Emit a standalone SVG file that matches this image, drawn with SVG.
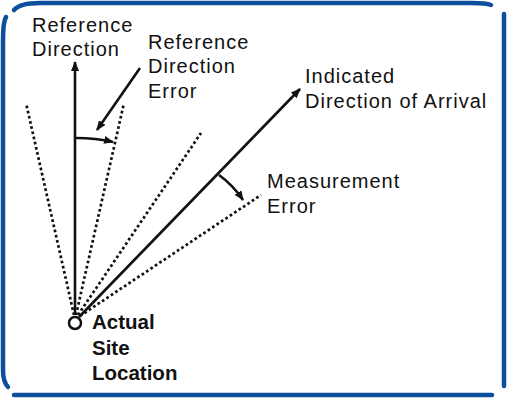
<svg xmlns="http://www.w3.org/2000/svg" width="508" height="400" viewBox="0 0 508 400">
<style>
.frame{fill:none;stroke:#0c4f9d;stroke-width:4.5;stroke-linecap:round}
.solid{fill:none;stroke:#111;stroke-width:2.6}
.dot{fill:none;stroke:#111;stroke-width:2.7;stroke-dasharray:2.7 2.6}
.lbl{font-family:"Liberation Sans",Arial,sans-serif;font-size:20px;fill:#111;letter-spacing:1px}
.bold{font-family:"Liberation Sans",Arial,sans-serif;font-size:20.5px;font-weight:bold;fill:#111}
</style>
<defs>
<marker id="ah" viewBox="0 0 10 8" refX="9" refY="4" markerWidth="10" markerHeight="8" markerUnits="userSpaceOnUse" orient="auto">
<path d="M0,0 L10,4 L0,8 Z" fill="#111"/>
</marker>
</defs>
<rect width="508" height="400" fill="#fff"/>
<g id="frame">
<path class="frame" d="M14,10 Q20,3 40,3 L472,3 Q486,3 491,5"/>
<path class="frame" d="M6,17 Q3,22 3,40 L3,370 Q3,382 8,387"/>
<path class="frame" d="M14,395 L492,395"/>
<path class="frame" d="M504,14 L504,386"/>
</g>
<g id="connectors">
<line class="dot" x1="74" y1="315" x2="26" y2="103"/>
<line class="dot" x1="76" y1="315" x2="124" y2="103"/>
<line class="dot" x1="78" y1="315" x2="201" y2="133"/>
<line class="dot" x1="80" y1="316" x2="261" y2="195"/>
<line class="solid" x1="75" y1="315" x2="75" y2="62" marker-end="url(#ah)"/>
<line class="solid" x1="79" y1="317" x2="300" y2="89" marker-end="url(#ah)"/>
<path class="solid" d="M76,138 Q96,138 113,142" marker-end="url(#ah)"/>
<line class="solid" x1="140" y1="68" x2="97" y2="130" marker-end="url(#ah)"/>
<path class="solid" d="M219,175 Q233,185 243,200" marker-end="url(#ah)"/>
</g>
<g id="site">
<circle cx="75" cy="323" r="6" fill="#fff" stroke="#111" stroke-width="2.5"/>
<text class="bold" x="92" y="329">Actual</text>
<text class="bold" x="92" y="355">Site</text>
<text class="bold" x="92" y="380">Location</text>
</g>
<g id="reference-direction">
<text class="lbl" x="32" y="32">Reference</text>
<text class="lbl" x="32" y="56">Direction</text>
</g>
<g id="reference-direction-error">
<text class="lbl" x="148" y="49">Reference</text>
<text class="lbl" x="148" y="73">Direction</text>
<text class="lbl" x="148" y="98">Error</text>
</g>
<g id="indicated-direction">
<text class="lbl" x="305" y="83">Indicated</text>
<text class="lbl" x="305" y="108">Direction of Arrival</text>
</g>
<g id="measurement-error">
<text class="lbl" x="267" y="188">Measurement</text>
<text class="lbl" x="267" y="213">Error</text>
</g>
</svg>
